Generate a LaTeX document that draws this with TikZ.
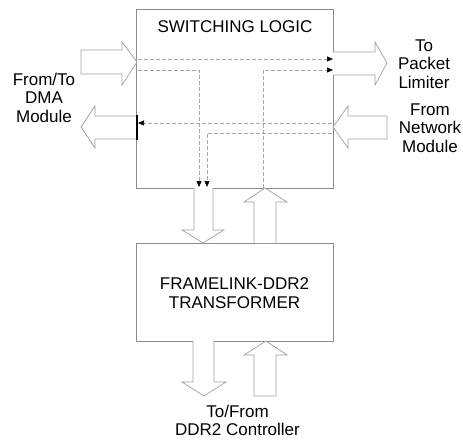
\documentclass[tikz,border=0pt]{standalone}
\usepackage{fontspec}
\setmainfont{Liberation Sans}
\usetikzlibrary{arrows.meta}
\definecolor{boxgray}{HTML}{8C8C8C}
\definecolor{arrgray}{HTML}{A0A0A0}
\definecolor{dashgray}{HTML}{A8A8A8}
\begin{document}
\begin{tikzpicture}[x=1pt,y=-1pt,
  box/.style={draw=boxgray, line width=0.8pt, inner sep=0pt, outer sep=0pt, anchor=north west},
  blk/.style={draw=arrgray, fill=white, line width=0.7pt, line join=miter},
  sig/.style={draw=dashgray, line width=0.6pt, dash pattern=on 4pt off 2pt,
              -{Triangle[length=6pt,width=5pt,color=black]}},
  lbl/.style={font=\fontsize{17}{18.5}\selectfont, align=center, text=black, inner sep=0pt, anchor=base}
]
\useasboundingbox (0,0) rectangle (463,439);

% main boxes
\node[box, minimum width=197pt, minimum height=179pt] (sw) at (136,9) {};
\node[box, minimum width=197pt, minimum height=98pt] (tr) at (136,243) {};

% block arrows (switching logic sides)
\path[blk] (81,50) -- (122,50) -- (122,42) -- (137,62) -- (122,85) -- (122,74) -- (81,74) -- cycle;
\path[blk] (137,116) -- (95,116) -- (95,106) -- (81,127) -- (95,148) -- (95,139) -- (137,139);
\path[blk] (333,52) -- (375,52) -- (375,42) -- (387,63) -- (375,85) -- (375,75) -- (333,75);
\path[blk] (387,116) -- (348,116) -- (348,106) -- (333,127) -- (348,148) -- (348,139) -- (387,139) -- cycle;

% block arrows between boxes
\path[blk] (194,188) -- (194,230) -- (182,230) -- (203,243) -- (224,230) -- (213,230) -- (213,188);
\path[blk] (254,243) -- (254,202) -- (244,202) -- (265,188) -- (287,202) -- (276,202) -- (276,243);
\path[blk] (193,341) -- (193,382) -- (182,382) -- (204,396) -- (226,382) -- (214,382) -- (214,341);
\path[blk] (254,396) -- (254,355) -- (244,355) -- (266,341) -- (287,355) -- (276,355) -- (276,396) -- cycle;

% bus bar on left edge
\draw[line width=1.3pt, black] (137,115) -- (137,140);

% dashed signal paths
\coordinate (a1) at (138,59);  \coordinate (b1) at (333,59);
\coordinate (a2) at (138,70);  \coordinate (c2) at (199,70);  \coordinate (b2) at (199,187);
\coordinate (a3) at (332,123); \coordinate (b3) at (138,123);
\coordinate (a4) at (332,133); \coordinate (c4) at (207,133); \coordinate (b4) at (207,187);
\coordinate (a5) at (263,188); \coordinate (c5) at (263,70);  \coordinate (b5) at (333,70);
\draw[sig] (a1) -- (b1);
\draw[sig] (a2) -- (c2) -- (b2);
\draw[sig] (a3) -- (b3);
\draw[sig] (a4) -- (c4) -- (b4);
\draw[sig] (a5) -- (c5) -- (b5);

% labels (anchor=base is the baseline of the last line)
\node[lbl] (swl) at (235,32) {SWITCHING LOGIC};
\node[lbl] (trl) at (234.5,308) {FRAMELINK-DDR2\\TRANSFORMER};
\node[lbl] (dma) at (44,122) {From/To\\DMA\\Module};
\node[lbl] (pkt) at (424,88) {To\\Packet\\Limiter};
\node[lbl] (net) at (430,152) {From\\Network\\Module};
\node[lbl] (ddr) at (237.5,435.5) {To/From\\DDR2 Controller};
\end{tikzpicture}
\end{document}
